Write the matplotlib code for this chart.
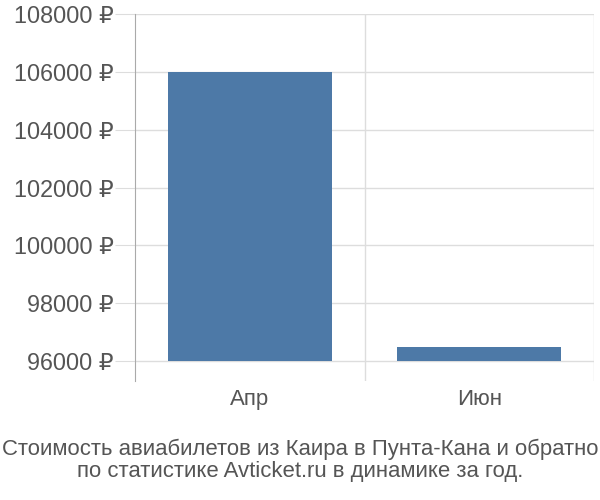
import matplotlib
matplotlib.use("Agg")
import matplotlib.pyplot as plt
from matplotlib.ticker import FuncFormatter

# data
months = ["Апр", "Июн"]
prices = [106000, 96500]
base = 96000
yticks = [96000, 98000, 100000, 102000, 104000, 106000, 108000]

plt.rcParams['font.family'] = ['Liberation Sans', 'DejaVu Sans']

fig = plt.figure(figsize=(6, 5), dpi=100)
ax = fig.add_axes([0.225, 0.238, 0.765, 0.734])

x = list(range(len(months)))
heights = [p - base for p in prices]
ax.bar(x, heights, bottom=base, width=0.715, color="#4d79a7", zorder=3)

ax.set_xlim(-0.5, len(months) - 0.5)
ax.set_ylim(95310, 108000)
ax.set_yticks(yticks)
ax.yaxis.set_major_formatter(FuncFormatter(lambda v, p: f"{int(v)} ₽"))
ax.tick_params(axis="y", length=14.4, color="#dddddd", labelsize=16.8, labelcolor="#555555", pad=1)
ax.grid(axis="y", color="#dddddd", linewidth=1, zorder=0)

# category boundaries as vertical lines
ax.set_xticks(x)
ax.set_xticklabels(months)
ax.tick_params(axis="x", length=0, labelsize=16, labelcolor="#555555", pad=6)
for b in [i + 0.5 for i in x]:
    ax.axvline(b, color="#dddddd", linewidth=1, zorder=0)

for s in ["top", "right", "bottom"]:
    ax.spines[s].set_visible(False)
ax.spines["left"].set_color("#aaaaaa")

fig.text(0.5, 0.079, "Стоимость авиабилетов из Каира в Пунта-Кана и обратно\nпо статистике Avticket.ru в динамике за год.",
         ha="center", va="center", fontsize=15.9, color="#555555", linespacing=1.1)

fig.savefig("out.png", dpi=100)
